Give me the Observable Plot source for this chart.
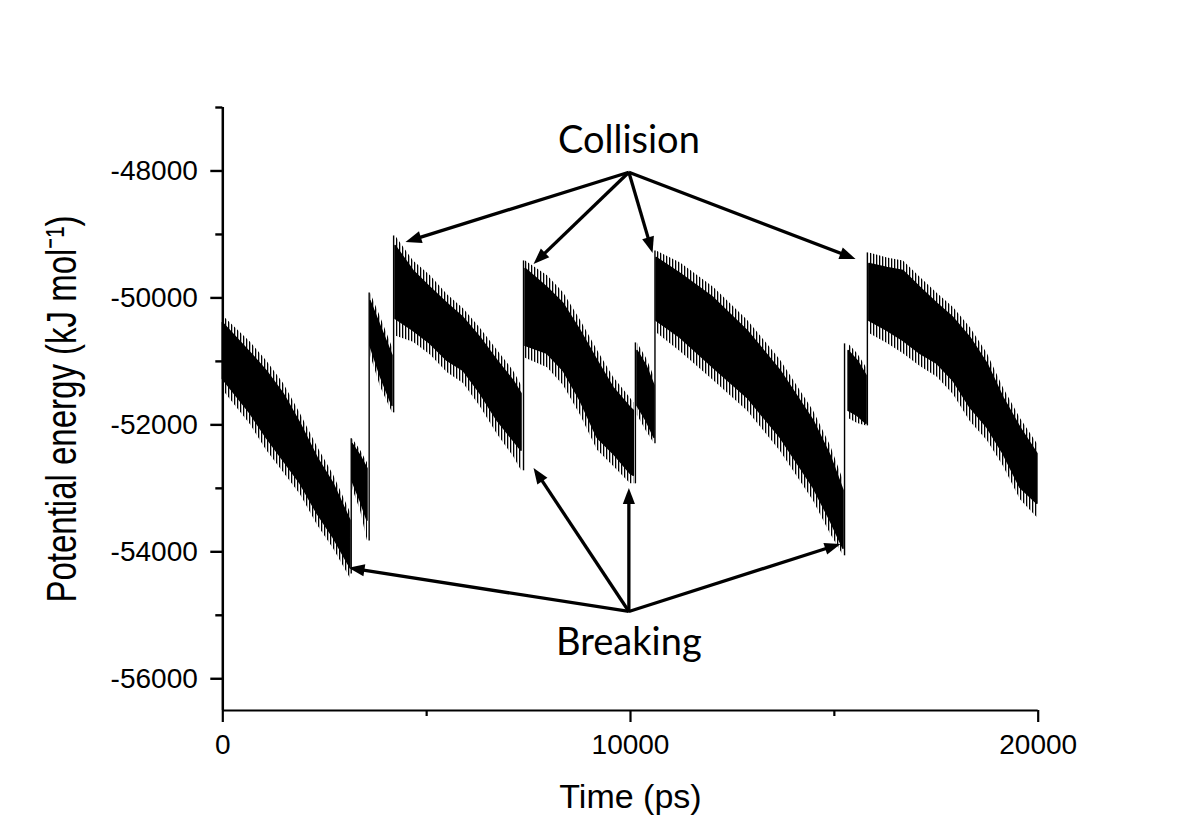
<!DOCTYPE html>
<html><head><meta charset="utf-8">
<script src="https://cdn.jsdelivr.net/npm/d3@7"></script>
<script src="https://cdn.jsdelivr.net/npm/@observablehq/plot@0.6"></script>
<style>
html,body{margin:0;padding:0;background:#fff;}
#chart svg{display:block;}
</style></head><body><div id="chart"></div>
<script>
// Potential energy trace: time (ps), dense core band edges and spike tips (kJ/mol), segment id
const timePs = [
  0, 680, 1072, 1490, 1906, 2323, 2716, 3131,
  3180, 3377, 3549,
  3622, 3867, 4162,
  4236, 4677, 5094, 5511, 5904, 6321, 6738, 7131, 7327,
  7425, 7965, 8357, 8774, 9191, 9583, 10000, 10081,
  10170, 10391, 10588,
  10638, 11227, 12036, 12870, 13680, 14489, 14906, 15225,
  15349, 15570, 15790,
  15859, 16301, 16693, 17110, 17527, 17920, 18337, 18754, 19147, 19564, 19981
];
const energyLow = [
  -51276, -51827, -52205, -52567, -52929, -53402, -53780, -54252,
  -52882, -53197, -53512,
  -50756, -51228, -51701,
  -50331, -50520, -50724, -50992, -51150, -51512, -51937, -52252, -52409,
  -50756, -50882, -51150, -51622, -52205, -52457, -52772, -52803,
  -51701, -51937, -52205,
  -50362, -50630, -51102, -51575, -52205, -52992, -53512, -53953,
  -51780, -51858, -51984,
  -50362, -50520, -50677, -50882, -51039, -51307, -51732, -52047, -52457, -52992, -53244
];
const energyHigh = [
  -50394, -50866, -51150, -51512, -51984, -52520, -52929, -53512,
  -52300, -52488, -52693,
  -50047, -50441, -50913,
  -49181, -49575, -49842, -50094, -50315, -50630, -50992, -51307, -51512,
  -49543, -49842, -50094, -50520, -50992, -51417, -51732, -51780,
  -50835, -51071, -51386,
  -49370, -49622, -50000, -50520, -51150, -51937, -52488, -53039,
  -50835, -50992, -51228,
  -49465, -49528, -49575, -49842, -50094, -50315, -50630, -51039, -51575, -52047, -52457
];
const spikeLow = [
  -51450, -52000, -52400, -52750, -53100, -53580, -53950, -54420,
  -53000, -53350, -53830,
  -50900, -51400, -51811,
  -50600, -50700, -50900, -51180, -51350, -51720, -52150, -52500, -52724,
  -50950, -51100, -51380, -51850, -52400, -52650, -52929, -52929,
  -51850, -52100, -52299,
  -50550, -50850, -51300, -51780, -52420, -53200, -53720, -54063,
  -51900, -51980, -52016,
  -50560, -50720, -50880, -51080, -51250, -51520, -51950, -52250, -52650, -53180, -53465
];
const spikeHigh = [
  -50280, -50700, -50990, -51350, -51830, -52350, -52790, -53380,
  -52220, -52400, -52600,
  -49921, -50300, -50780,
  -49024, -49420, -49650, -49950, -50170, -50480, -50830, -51150, -51380,
  -49417, -49650, -49920, -50350, -50830, -51250, -51580, -51650,
  -50709, -50950, -51250,
  -49260, -49450, -49830, -50350, -50980, -51780, -52330, -52880,
  -50724, -50880, -51100,
  -49291, -49370, -49420, -49680, -49930, -50150, -50470, -50880, -51420, -51900, -52300
];
const segment = [
  1,1,1,1,1,1,1,1,
  2,2,2,
  3,3,3,
  4,4,4,4,4,4,4,4,4,
  5,5,5,5,5,5,5,5,
  6,6,6,
  7,7,7,7,7,7,7,7,
  8,8,8,
  9,9,9,9,9,9,9,9,9,9,9
];
// Sudden jumps between segments: time, lowest value before, highest value after
const jumpTime = [3150, 3590, 4190, 7376, 10120, 10600, 15250, 15810];
const jumpFrom = [-54350, -53830, -51811, -52724, -52929, -52299, -54063, -52016];
const jumpTo   = [-52220, -49921, -49024, -49417, -50709, -49260, -50724, -49291];

// Annotation arrows (data coordinates)
const arrowFromTime   = [9960, 9960, 9960, 9960, 9960, 9960, 9960, 9960];
const arrowFromEnergy = [-48020, -48020, -48020, -48020, -54940, -54940, -54940, -54940];
const arrowToTime     = [4482, 7622, 10541, 15520, 3084, 7622, 9960, 15152];
const arrowToEnergy   = [-49118, -49465, -49291, -49386, -54253, -52678, -52993, -53875];
const annotationLabels = ["Collision", "Breaking"];
const annotationTime = [9960, 9960];
const annotationEnergy = [-47528, -55433];

const xMajorTicks = [0, 10000, 20000];
const xMinorTicks = [5000, 15000];
const yMajorTicks = [-48000, -50000, -52000, -54000, -56000];
const yMinorTicks = [-47000, -49000, -51000, -53000, -55000];
const xDomain = [0, 20000];
const yDomain = [-56500, -47000];
const xTitle = "Time (ps)";
const yTitle = "Potential energy (kJ mol\u207B\u00B9)";

const W = 1193, H = 840;
const ML = 222.3, MR = 155.3, MT = 107, MB = 130;
const font = "'Liberation Sans', Arial, sans-serif";
const YTITLE_STRETCH = 1.3;   // the y title of the original is drawn with wide lettering

const rows = timePs.map((t, i) => ({t, lo: energyLow[i], hi: energyHigh[i], slo: spikeLow[i], shi: spikeHigh[i], seg: segment[i]}));
const jumps = jumpTime.map((t, i) => ({t, from: jumpFrom[i], to: jumpTo[i]}));
const notes = annotationLabels.map((s, i) => ({s, t: annotationTime[i], e: annotationEnergy[i]}));

// arrow heads: slim filled triangles, oriented in screen space through the same scales
const sx = Plot.scale({x: {domain: xDomain, range: [ML, W - MR]}});
const sy = Plot.scale({y: {domain: yDomain, range: [H - MB, MT]}});
const HEAD_R = 6.4, TIP = 1.6 * HEAD_R;
const slimTriangle = {
  draw(context, size) {
    const r = Math.sqrt(size / Math.PI);
    context.moveTo(0, -1.6 * r);
    context.lineTo(0.95 * r, 0.9 * r);
    context.lineTo(-0.95 * r, 0.9 * r);
    context.closePath();
  }
};
const arrows = arrowFromTime.map((t, i) => {
  const X1 = sx.apply(t), Y1 = sy.apply(arrowFromEnergy[i]);
  const X2 = sx.apply(arrowToTime[i]), Y2 = sy.apply(arrowToEnergy[i]);
  const L = Math.hypot(X2 - X1, Y2 - Y1), ux = (X2 - X1) / L, uy = (Y2 - Y1) / L;
  return {
    x1: t, y1: arrowFromEnergy[i],
    hx: sx.invert(X2 - ux * TIP), hy: sy.invert(Y2 - uy * TIP),
    angle: Math.atan2(ux, -uy) * 180 / Math.PI
  };
});

const chart = Plot.plot({
  width: W, height: H,
  marginTop: MT, marginBottom: MB, marginLeft: ML, marginRight: MR,
  x: {domain: xDomain, axis: null},
  y: {domain: yDomain, axis: null},
  style: {fontFamily: font, fontSize: "28px", color: "black", background: "white"},
  marks: [
    Plot.areaY(rows, {x: "t", y1: "slo", y2: "shi", z: "seg", fill: "url(#spikes)", curve: "linear"}),
    Plot.areaY(rows, {x: "t", y1: "lo", y2: "hi", z: "seg", fill: "black", stroke: "black", strokeWidth: 1.5, strokeLinejoin: "round", curve: "linear"}),
    Plot.ruleX(jumps, {x: "t", y1: "from", y2: "to", stroke: "black", strokeWidth: 1.4}),
    Plot.ruleY([yDomain[0]], {stroke: "black", strokeWidth: 2.2}),
    Plot.ruleX([xDomain[0]], {stroke: "black", strokeWidth: 2.5}),
    Plot.axisX({ticks: xMajorTicks, tickSize: 12, tickPadding: 12, tickFormat: d => String(d), fontSize: 28, strokeWidth: 2.2, label: null}),
    Plot.axisX({ticks: xMinorTicks, tickSize: 6, tickFormat: () => "", strokeWidth: 2.2, label: null}),
    Plot.axisY({ticks: yMajorTicks, tickSize: 12, tickPadding: 13, tickFormat: d => String(d), fontSize: 28, strokeWidth: 2.4, label: null}),
    Plot.axisY({ticks: yMinorTicks, tickSize: 7, tickFormat: () => "", strokeWidth: 2.4, label: null}),
    Plot.link(arrows, {x1: "x1", y1: "y1", x2: "hx", y2: "hy", stroke: "black", strokeWidth: 3.3}),
    Plot.dot(arrows, {x: "hx", y: "hy", symbol: slimTriangle, r: HEAD_R, rotate: "angle", fill: "black", stroke: null}),
    Plot.text([xTitle], {frameAnchor: "bottom", lineAnchor: "top", dy: 73, fontSize: 34, fill: "black"}),
    Plot.text([yTitle], {frameAnchor: "left", textAnchor: "middle", rotate: -90, lineAnchor: "middle", dx: -161, fontSize: 33, fill: "black"}),
    Plot.text(notes, {x: "t", y: "e", text: "s", lineAnchor: "middle", fontFamily: "Lato, 'Open Sans', sans-serif", fontSize: 38, fill: "black"})
  ]
});

// stripe pattern used for the spiky fringe of the trace
const NS = "http://www.w3.org/2000/svg";
const defs = document.createElementNS(NS, "defs");
const pat = document.createElementNS(NS, "pattern");
pat.setAttribute("id", "spikes");
pat.setAttribute("patternUnits", "userSpaceOnUse");
pat.setAttribute("width", "3");
pat.setAttribute("height", "10");
const bar = document.createElementNS(NS, "rect");
bar.setAttribute("width", "1.3");
bar.setAttribute("height", "10");
bar.setAttribute("fill", "black");
pat.appendChild(bar);
defs.appendChild(pat);
chart.insertBefore(defs, chart.firstChild);
document.getElementById("chart").appendChild(chart);

// widen the y-title lettering about its own anchor, as in the original
function stretch(el, kx, ky) {
  const tr = el.getAttribute("transform");
  if (tr) el.setAttribute("transform", `${tr} scale(${kx},${ky})`);
  else {
    const x = +(el.getAttribute("x") || 0), y = +(el.getAttribute("y") || 0);
    el.setAttribute("transform", `translate(${x},${y}) scale(${kx},${ky}) translate(${-x},${-y})`);
  }
}
chart.querySelectorAll("text").forEach(t => {
  if (t.textContent === yTitle) stretch(t, 1, YTITLE_STRETCH);
});
</script></body></html>
